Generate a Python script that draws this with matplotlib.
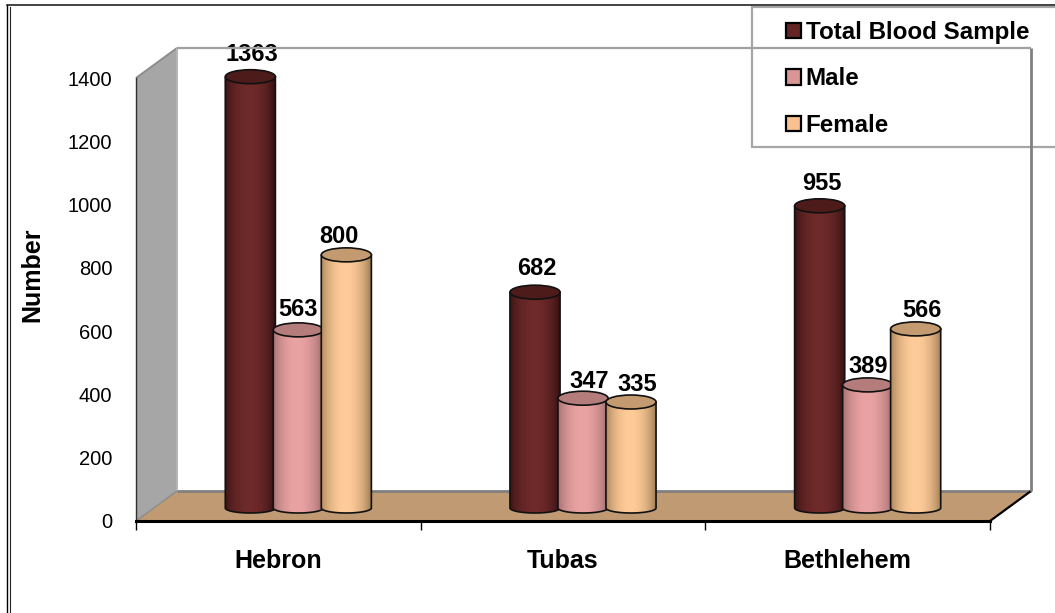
import numpy as np
import matplotlib
matplotlib.use("Agg")
from matplotlib import pyplot as plt
from matplotlib.patches import Ellipse, PathPatch, Patch, Polygon, Rectangle
from matplotlib.path import Path
from matplotlib.transforms import Affine2D, IdentityTransform

plt.rcParams["font.family"] = ["Liberation Sans", "DejaVu Sans"]

cities = ["Hebron", "Tubas", "Bethlehem"]
series_names = ["Total Blood Sample", "Male", "Female"]
total_samples = [1363, 682, 955]
male_samples = [563, 347, 389]
female_samples = [800, 335, 566]
y_ticks = [0, 200, 400, 600, 800, 1000, 1200, 1400]

# (edge shade, centre shade, top cap, legend swatch)
series_colors = [
    ("#361111", "#6f2a2a", "#4e1b1b", "#632423"),
    ("#9c6a6a", "#eaa3a3", "#b57c7c", "#d99694"),
    ("#a07e54", "#ffcc99", "#c49a70", "#fac090"),
]

# hand placed value labels: pixel nudge per series and city
label_nudge = {
    0: [(0, -3), (0, -2), (0, -3)],
    1: [(-2, -5), (4, -9), (-1, -7)],
    2: [(-9, -7), (4, -8), (4, -7)],
}

W, H = 1055, 613
BAR_WIDTH = 0.176
BAR_STEP = 0.1686
CAP_PX = 7
BASE_PX = 5

fig = plt.figure(figsize=(W / 100, H / 100), dpi=100)
ax = fig.add_axes([136 / W, (H - 521) / H, (990 - 136) / W, (521 - 78) / H])
ax.set_xlim(0, 3)
ax.set_ylim(0, 1400)
ax.patch.set_alpha(0)

# depth offsets in display pixels: bars stand halfway back, wall at the far end
bar_shift = ax.transData + Affine2D().translate(20, 13)
WALL_DX, WALL_DY = 41, 30
px_per_unit = (521 - 78) / 1400
cap_h = CAP_PX / px_per_unit
base_h = BASE_PX / px_per_unit


def to_px(x, y):
    return ax.transData.transform((x, y))


def draw_box():
    # side wall, floor and back wall outline of the 3D box
    ident = IdentityTransform()
    f0 = to_px(0, 0)
    f1 = to_px(0, 1400)
    f2 = to_px(3, 0)
    d = np.array([WALL_DX, WALL_DY])
    ax.add_patch(Polygon([f0, f1, f1 + d, f0 + d], closed=True, transform=ident,
                         fc="#a6a6a6", ec="none", zorder=1, clip_on=False))
    ax.add_patch(Polygon([f0, f0 + d, f2 + d, f2], closed=True, transform=ident,
                         fc="#c09a72", ec="none", zorder=1, clip_on=False))
    top_r = np.array([f2[0], f1[1]]) + d
    lines = [
        ([f1, f1 + d], "#8c8c8c", 1.4, 1.5),
        ([f1 + d, top_r], "#a0a0a0", 1.6, 5.5),
        ([f1 + d, f0 + d], "#b4b4b4", 1.4, 1.5),
        ([f0 + d, f2 + d], "#808080", 2.0, 1.5),
        ([top_r, f2 + d], "#808080", 2.0, 5.5),
        ([f0, f0 + d], "#8c8c8c", 1.0, 1.5),
        ([f2, f2 + d], "#000000", 1.6, 1.5),
    ]
    for pts, color, lw, z in lines:
        xs, ys = zip(*pts)
        ax.plot(xs, ys, color=color, lw=lw, transform=ident, zorder=z,
                clip_on=False, solid_capstyle="butt")


def draw_cylinder(center, value, colors, nudge, z):
    edge, mid, cap, _ = colors
    left = center - BAR_WIDTH / 2
    right = center + BAR_WIDTH / 2

    t = np.linspace(np.pi, 2 * np.pi, 40)
    arc_x = center + BAR_WIDTH / 2 * np.cos(t)
    arc_y = base_h * np.sin(t)
    verts = [(left, value)] + list(zip(arc_x, arc_y)) + [(right, value), (left, value)]
    body = Path(verts)

    c0 = np.array(matplotlib.colors.to_rgb(edge))
    c1 = np.array(matplotlib.colors.to_rgb(mid))
    u = np.linspace(-1, 1, 60)
    weight = np.clip(1 - np.abs(u + 0.05) ** 1.9, 0, 1)[:, None] ** 0.8
    shade = (c0 + (c1 - c0) * weight)[None, :, :]
    im = ax.imshow(shade, extent=[left, right, -base_h, value], aspect="auto",
                   transform=bar_shift, zorder=z, interpolation="bilinear")
    im.set_clip_path(PathPatch(body, transform=bar_shift))

    ax.add_patch(PathPatch(body, fc="none", ec="#111111", lw=1.2,
                           transform=bar_shift, zorder=z + 0.1, clip_on=False))
    ax.add_patch(Ellipse((center, value), BAR_WIDTH, 2 * cap_h, fc=cap, ec="#111111",
                         lw=1.2, transform=bar_shift, zorder=z + 0.2, clip_on=False))
    ax.annotate(str(value), (center, value), xycoords=bar_shift,
                xytext=(2 + nudge[0], CAP_PX + 7 + nudge[1]), textcoords="offset pixels",
                ha="center", va="bottom", fontsize=17, fontweight="bold",
                zorder=z + 0.3, annotation_clip=False)


def draw_legend():
    frame = Rectangle((752, H - 147), 340, 140, transform=IdentityTransform(),
                      fc="white", ec="#a6a6a6", lw=1.6, zorder=4.9, clip_on=False)
    ax.add_patch(frame)
    handles = [Patch(fc=c[3], ec="black", lw=1.6, label=n)
               for c, n in zip(series_colors, series_names)]
    leg = ax.legend(handles=handles, loc="upper left",
                    bbox_to_anchor=(786, H - 21), bbox_transform=IdentityTransform(),
                    frameon=False, borderpad=0, borderaxespad=0,
                    prop={"weight": "bold", "size": 17.4},
                    handlelength=0.62, handleheight=0.62, handletextpad=0.2,
                    labelspacing=0.97)
    leg.set_zorder(5)


draw_box()

all_series = [total_samples, male_samples, female_samples]
for i in range(len(cities)):
    for j, values in enumerate(all_series):
        draw_cylinder(i + 0.5 + (j - 1) * BAR_STEP, values[i], series_colors[j],
                      label_nudge[j][i], 2 + i + j * 0.5)

draw_legend()

for side in ["top", "right"]:
    ax.spines[side].set_visible(False)
ax.spines["left"].set_linewidth(1.0)
ax.spines["left"].set_color("#303030")
ax.spines["left"].set_zorder(2)
ax.spines["bottom"].set_linewidth(2.2)
ax.spines["bottom"].set_color("black")
ax.spines["bottom"].set_zorder(2)

ax.set_yticks(y_ticks)
ax.tick_params(axis="y", length=0, pad=17, labelsize=14.5)
ax.set_xticks(range(4))
ax.set_xticklabels([])
ax.tick_params(axis="x", which="major", length=6.5, width=1, direction="out")
ax.set_xticks([0.5, 1.5, 2.5], minor=True)
ax.set_xticklabels(cities, minor=True, fontsize=18, fontweight="bold")
ax.tick_params(axis="x", which="minor", length=0, pad=20)

fig.text(32 / W, (H - 275) / H, "Number", rotation=90, ha="center", va="center",
         fontsize=18, fontweight="bold")

# double rule along the top and left of the page
page = IdentityTransform()
fig.add_artist(plt.Line2D([7, 7], [0, H - 5], color="black", lw=1.0, transform=page))
fig.add_artist(plt.Line2D([10, 10], [0, H - 7], color="#222222", lw=0.8, transform=page))
fig.add_artist(plt.Line2D([7, W], [H - 5, H - 5], color="#222222", lw=1.2, transform=page))

fig.savefig("out.png", dpi=100)
